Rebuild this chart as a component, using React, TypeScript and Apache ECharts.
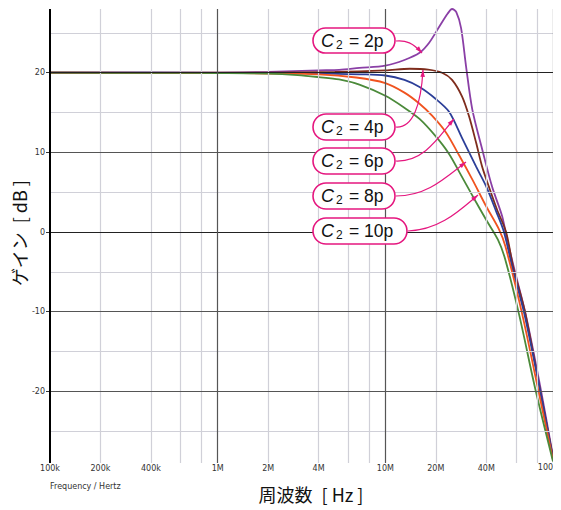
import React, { useEffect, useRef } from 'react';
import * as echarts from 'echarts';

// ---- axis / grid values ----
const DECADE_FREQS = [1e5, 1e6, 1e7, 1e8];
const MINOR_FREQS = [2e5, 4e5, 6e5, 8e5, 2e6, 4e6, 6e6, 8e6, 2e7, 4e7, 6e7, 8e7];
const X_LABEL_FREQS = [1e5, 2e5, 4e5, 1e6, 2e6, 4e6, 1e7, 2e7, 4e7, 1e8];
const X_LABELS = ['100k', '200k', '400k', '1M', '2M', '4M', '10M', '20M', '40M', '100M'];
const Y_MAJOR = [-20, -10, 0, 10, 20];
const Y_MINOR = [-25, -15, -5, 5, 15, 25];
const Y_MIN = -29;
const Y_MAX = 28;

// ---- series values: [frequency Hz, gain dB] ----
const C2_2P = [
  [1e5, 20], [1e6, 20.02], [2e6, 20.1], [4e6, 20.3], [5.3e6, 20.35], [7e6, 20.6], [10e6, 20.9],
  [13e6, 21.6], [16e6, 22.5], [18.3e6, 23.8], [21e6, 25.8], [23.5e6, 27.4], [25e6, 28],
  [26.5e6, 27.6], [28.3e6, 25.6], [30.3e6, 20.8], [33e6, 15.4], [37.8e6, 10.4], [43.3e6, 5.7],
  [49.7e6, 2], [53.2e6, -0.9], [60e6, -5.4], [69e6, -10.5], [85e6, -20], [1e8, -28.2],
];
const C2_4P = [
  [1e5, 20], [2e6, 20.02], [5e6, 20.1], [10e6, 20.3], [14e6, 20.5], [18e6, 20.4], [21.8e6, 20],
  [25e6, 19.1], [28.7e6, 17], [31.6e6, 14.5], [34.8e6, 11.2], [37.8e6, 8.2], [41.6e6, 5.6],
  [46.4e6, 2.8], [52.5e6, 0], [58e6, -4.5], [68e6, -10], [84e6, -20], [1e8, -28.3],
];
const C2_6P = [
  [1e5, 20], [1e6, 19.99], [2e6, 19.97], [4e6, 19.93], [7e6, 19.8], [10e6, 19.65], [13e6, 19.1],
  [16e6, 18.2], [20e6, 16.7], [24e6, 15.1], [28.7e6, 11.8], [34.8e6, 8.2], [40e6, 5.7],
  [45.8e6, 2.6], [51e6, 0], [58e6, -5], [67e6, -10], [84e6, -20], [1e8, -28.5],
];
const C2_8P = [
  [1e5, 20], [1e6, 19.97], [2e6, 19.9], [4e6, 19.8], [6.7e6, 19.4], [10e6, 18.7], [13e6, 17.5],
  [16e6, 16.1], [19e6, 14.6], [23e6, 12.5], [27.6e6, 9.6], [33e6, 6.6], [40e6, 3.2],
  [47.7e6, 0.3], [52e6, -1.8], [65e6, -10], [82e6, -20], [1e8, -28.6],
];
const C2_10P = [
  [1e5, 20], [5e5, 19.98], [1e6, 19.95], [2e6, 19.88], [3e6, 19.7], [4e6, 19.45], [5.3e6, 19.15],
  [7e6, 18.5], [10e6, 17.1], [13e6, 15.6], [16e6, 14.2], [20e6, 12.0], [24e6, 9.8], [28e6, 7.3],
  [33e6, 4.6], [40e6, 1.5], [47e6, -1], [52e6, -3.5], [63e6, -10.5], [79e6, -20], [1e8, -28.8],
];
const SERIES_NAMES = ['C2 = 2p', 'C2 = 4p', 'C2 = 6p', 'C2 = 8p', 'C2 = 10p'];
const SERIES_DATA = [C2_2P, C2_4P, C2_6P, C2_8P, C2_10P];
const SERIES_COLORS = ['#8a3fa6', '#7e2c1c', '#2b3e98', '#f0531f', '#4b8a3a'];

// ---- annotation labels ----
const NOTE_VALUES = ['2p', '4p', '6p', '8p', '10p'];

const MAG = '#e5177f';
const LABEL_FONT = '"Liberation Sans", Arial, sans-serif';
const SMALL_FONT = '"DejaVu Sans", sans-serif';
const CJK_FONT = '"Noto Sans CJK JP", "Noto Sans", sans-serif';

function arrowHead(tx: number, ty: number, fx: number, fy: number) {
  const dx = tx - fx;
  const dy = ty - fy;
  const L = Math.hypot(dx, dy) || 1;
  const ux = dx / L;
  const uy = dy / L;
  const len = 7;
  const hw = 2.3;
  const bx = tx - ux * len;
  const by = ty - uy * len;
  return [
    [tx, ty],
    [bx - uy * hw, by + ux * hw],
    [bx + uy * hw, by - ux * hw],
  ];
}

type Note = { v: string; x: number; y: number; w: number; h: number; c: number[] };
const NOTE_LAYOUT: Note[] = [
  { v: NOTE_VALUES[0], x: 313, y: 28, w: 82, h: 25, c: [396, 41, 406, 40, 413, 43, 422, 53] },
  { v: NOTE_VALUES[1], x: 313, y: 114, w: 82, h: 26, c: [396, 127, 413, 128, 421, 105, 423, 70] },
  { v: NOTE_VALUES[2], x: 313, y: 148, w: 82, h: 26, c: [396, 161, 425, 162, 440, 135, 454, 119] },
  { v: NOTE_VALUES[3], x: 313, y: 183, w: 82, h: 26, c: [396, 196, 427, 196, 445, 178, 466, 162] },
  { v: NOTE_VALUES[4], x: 313, y: 218, w: 94, h: 26, c: [408, 231, 440, 230, 460, 210, 478, 195] },
];

function buildNotes() {
  const els: any[] = [];
  NOTE_LAYOUT.forEach((n) => {
    const cy = n.y + n.h / 2;
    const [x1, y1, c1x, c1y, c2x, c2y, x2, y2] = n.c;
    els.push({
      type: 'bezierCurve',
      z: 100,
      silent: true,
      shape: { x1, y1, cpx1: c1x, cpy1: c1y, cpx2: c2x, cpy2: c2y, x2, y2 },
      style: { stroke: MAG, lineWidth: 1.2, fill: null },
    });
    els.push({
      type: 'polygon',
      z: 101,
      silent: true,
      shape: { points: arrowHead(x2, y2, c2x, c2y) },
      style: { fill: MAG, stroke: null },
    });
    els.push({
      type: 'rect',
      z: 102,
      silent: true,
      shape: { x: n.x, y: n.y, width: n.w, height: n.h, r: n.h / 2 },
      style: { fill: '#ffffff', stroke: MAG, lineWidth: 1.6 },
    });
    els.push({
      type: 'text',
      z: 103,
      silent: true,
      style: {
        text: 'C', x: n.x + 8, y: cy, fill: '#111', fontSize: 18, fontStyle: 'italic',
        fontFamily: LABEL_FONT, textAlign: 'left', textVerticalAlign: 'middle',
      },
    });
    els.push({
      type: 'text',
      z: 103,
      silent: true,
      style: {
        text: '2', x: n.x + 23, y: cy + 4, fill: '#111', fontSize: 12,
        fontFamily: LABEL_FONT, textAlign: 'left', textVerticalAlign: 'middle',
      },
    });
    els.push({
      type: 'text',
      z: 103,
      silent: true,
      style: {
        text: '= ' + n.v, x: n.x + 36, y: cy, fill: '#111', fontSize: 17.5,
        fontFamily: LABEL_FONT, textAlign: 'left', textVerticalAlign: 'middle',
      },
    });
  });
  return els;
}

export default function App() {
  const ref = useRef<HTMLDivElement>(null);
  useEffect(() => {
    if (!ref.current) return;
    const chart = echarts.init(ref.current, undefined, { renderer: 'svg' });

    const lastLabel = X_LABELS[X_LABELS.length - 1];
    const gridLines: any[] = [];
    MINOR_FREQS.forEach((f) => {
      const idx = X_LABEL_FREQS.indexOf(f);
      gridLines.push({
        xAxis: f,
        lineStyle: { color: '#d0d0d8', width: 1.2, type: 'solid' },
        label: idx >= 0 ? { show: true, formatter: X_LABELS[idx] } : { show: false },
      });
    });
    Y_MINOR.forEach((v) => {
      gridLines.push({ yAxis: v, lineStyle: { color: '#d0d0d8', width: 1.2, type: 'solid' }, label: { show: false } });
    });
    Y_MAJOR.forEach((v) => {
      gridLines.push({ yAxis: v, lineStyle: { color: v === 0 || v === 20 ? '#222' : '#555', width: 1, type: 'solid' }, label: { show: false } });
    });
    DECADE_FREQS.forEach((f) => {
      const idx = X_LABEL_FREQS.indexOf(f);
      const isLast = idx === X_LABELS.length - 1;
      gridLines.push({
        xAxis: f,
        lineStyle: { color: f === 1e5 ? '#000' : '#555', width: f === 1e5 ? 2 : 1.2, type: 'solid' },
        label: idx >= 0 && !isLast ? { show: true, formatter: X_LABELS[idx] } : { show: false },
      });
    });

    const series: any[] = [
      {
        type: 'line',
        name: 'grid',
        data: [],
        z: 1,
        silent: true,
        clip: false,
        markLine: {
          silent: true,
          symbol: ['none', 'none'],
          animation: false,
          emphasis: { disabled: true },
          label: {
            show: false,
            position: 'start',
            distance: 1,
            fontSize: 8,
            color: '#333',
            fontFamily: SMALL_FONT,
          },
          data: gridLines,
        },
      },
    ];
    SERIES_DATA.forEach((d, i) => {
      series.push({
        type: 'line',
        name: SERIES_NAMES[i],
        data: d,
        z: 2,
        showSymbol: false,
        smooth: 0.3,
        lineStyle: { color: SERIES_COLORS[i], width: 1.8 },
        itemStyle: { color: SERIES_COLORS[i] },
        emphasis: { disabled: true },
      });
    });

    chart.setOption({
      animation: false,
      grid: { left: 50, right: 8, top: 9, bottom: 47, containLabel: false },
      xAxis: {
        type: 'log',
        logBase: 10,
        min: 1e5,
        max: 1e8,
        axisLine: { show: false },
        axisTick: { show: false },
        axisLabel: { show: false },
        splitLine: { show: false },
        minorTick: { show: false },
        minorSplitLine: { show: false },
      },
      yAxis: {
        type: 'value',
        min: Y_MIN,
        max: Y_MAX,
        axisLine: { show: false },
        axisTick: {
          show: true,
          length: 4,
          customValues: Y_MAJOR,
          lineStyle: { color: '#333', width: 1 },
        },
        axisLabel: {
          show: true,
          customValues: Y_MAJOR,
          margin: 5,
          fontSize: 8,
          color: '#333',
          fontFamily: SMALL_FONT,
        },
        splitLine: { show: false },
      },
      graphic: [
        {
          type: 'text',
          silent: true,
          x: 19,
          y: 233,
          rotation: Math.PI / 2,
          style: {
            text: 'ゲイン\u2002[ dB ]', x: 0, y: 0, fill: '#111', fontSize: 18,
            fontFamily: CJK_FONT, textAlign: 'center', textVerticalAlign: 'middle',
          },
        },
        {
          type: 'text',
          silent: true,
          style: {
            text: '周波数\u2002[ Hz ]', x: 311, y: 494, fill: '#111', fontSize: 18,
            fontFamily: CJK_FONT, textAlign: 'center', textVerticalAlign: 'middle',
          },
        },
        {
          type: 'text',
          silent: true,
          style: {
            text: lastLabel, x: 560, y: 467, fill: '#333', fontSize: 8,
            fontFamily: SMALL_FONT, textAlign: 'right', textVerticalAlign: 'middle',
          },
        },
        {
          type: 'text',
          silent: true,
          style: {
            text: 'Frequency / Hertz', x: 50, y: 486, fill: '#333', fontSize: 8,
            fontFamily: SMALL_FONT, textAlign: 'left', textVerticalAlign: 'middle',
          },
        },
        ...buildNotes(),
      ],
      series,
    });
    return () => chart.dispose();
  }, []);
  return <div ref={ref} style={{ width: 561, height: 510, margin: '-8px 0 0 -8px' }} />;
}
